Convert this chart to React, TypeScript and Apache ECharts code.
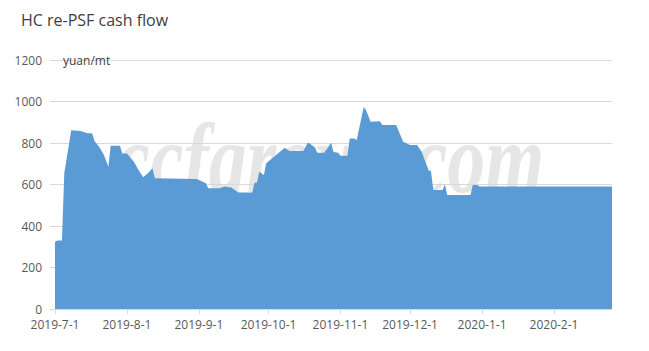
import React, { useEffect, useRef } from "react";
import * as echarts from "echarts";

const titleText = "HC re-PSF cash flow";
const unitText = "yuan/mt";
const watermarkText = "ccfgroup.com";

const dates = [
  "2019-07-01","2019-07-02","2019-07-04","2019-07-05","2019-07-08","2019-07-12","2019-07-15","2019-07-17",
  "2019-07-18","2019-07-20","2019-07-22","2019-07-24","2019-07-25","2019-07-29","2019-07-30","2019-08-01",
  "2019-08-04","2019-08-06","2019-08-08","2019-08-10","2019-08-12","2019-08-13","2019-08-31","2019-09-03",
  "2019-09-04","2019-09-05","2019-09-10","2019-09-12","2019-09-15","2019-09-18","2019-09-24","2019-09-25",
  "2019-09-26","2019-09-27","2019-09-29","2019-09-30","2019-10-08","2019-10-10","2019-10-16","2019-10-18",
  "2019-10-21","2019-10-22","2019-10-25","2019-10-28","2019-10-29","2019-10-31","2019-11-01","2019-11-04",
  "2019-11-05","2019-11-07","2019-11-08","2019-11-11","2019-11-12","2019-11-14","2019-11-18","2019-11-19",
  "2019-11-25","2019-11-28","2019-12-01","2019-12-04","2019-12-06","2019-12-09","2019-12-10","2019-12-11",
  "2019-12-15","2019-12-16","2019-12-17","2019-12-27","2019-12-28","2019-12-30","2019-12-31","2020-02-26",
];

const values = [
  324, 330, 330, 654, 862, 858, 847, 847,
  810, 782, 745, 686, 787, 787, 750, 750,
  710, 670, 635, 654, 678, 630, 627, 612,
  606, 582, 582, 590, 585, 562, 562, 608,
  608, 662, 646, 702, 777, 761, 761, 803,
  779, 753, 753, 801, 757, 753, 739, 739,
  822, 822, 814, 972, 959, 903, 905, 887,
  887, 806, 790, 790, 758, 668, 665, 573,
  573, 601, 549, 549, 598, 598, 590, 590,
];

const yMin = 0;
const yMax = 1200;
const yStep = 200;

function toTs(s: string): number {
  const [y, m, d] = s.split("-").map(Number);
  return new Date(y, m - 1, d).getTime();
}

export default function App() {
  const ref = useRef<HTMLDivElement>(null);

  useEffect(() => {
    if (!ref.current) return;
    const chart = echarts.init(ref.current, null, { renderer: "svg" });
    const data = dates.map((d, i) => [toTs(d), values[i]]);
    const DAY = 86400000;
    const font = "'Open Sans', 'Liberation Sans', sans-serif";
    chart.setOption({
      animation: false,
      backgroundColor: "#ffffff",
      title: {
        text: titleText,
        left: 16,
        top: 7,
        textStyle: { fontFamily: font, fontSize: 16, fontWeight: "normal", color: "#404040" },
      },
      grid: { left: 55, right: 37, top: 60, bottom: 42, containLabel: false },
      graphic: [
        {
          type: "text",
          z: -1,
          zlevel: 0,
          x: 116,
          y: 108,
          scaleX: 0.76,
          silent: true,
          style: {
            text: watermarkText,
            fontFamily: "'Liberation Serif', serif",
            fontStyle: "italic",
            fontWeight: "bold",
            fontSize: 100,
            fill: "#e6e6e6",
          },
        },
        {
          type: "text",
          x: 63,
          y: 60,
          z: 100,
          style: {
            text: unitText,
            fontFamily: font,
            fontSize: 12,
            fill: "#404040",
            verticalAlign: "middle",
          },
        },
      ],
      xAxis: {
        type: "time",
        min: toTs(dates[0]),
        max: toTs(dates[dates.length - 1]),
        minInterval: 28 * DAY,
        maxInterval: 31 * DAY,
        axisLine: { show: true, lineStyle: { color: "#d9d9d9", width: 1 } },
        axisTick: { show: true, length: 5, lineStyle: { color: "#d9d9d9" } },
        splitLine: { show: false },
        axisLabel: {
          margin: 9,
          color: "#595959",
          fontFamily: font,
          fontSize: 12,
          lineHeight: 13,
          hideOverlap: false,
          showMaxLabel: false,
          formatter: (v: number) => {
            const d = new Date(v);
            return `${d.getFullYear()}-${d.getMonth() + 1}-${d.getDate()}`;
          },
        },
      },
      yAxis: {
        type: "value",
        min: yMin,
        max: yMax,
        interval: yStep,
        axisLine: { show: false },
        axisTick: { show: true, length: 5, lineStyle: { color: "#d9d9d9" } },
        splitLine: { show: true, lineStyle: { color: "#d9d9d9", width: 1 } },
        axisLabel: {
          margin: 13,
          color: "#595959",
          fontFamily: font,
          fontSize: 12,
          lineHeight: 12,
          formatter: (v: number) => String(v),
        },
      },
      series: [
        {
          type: "line",
          data,
          showSymbol: false,
          symbol: "none",
          z: 3,
          lineStyle: { width: 0 },
          areaStyle: { color: "#5b9bd5", opacity: 1 },
        },
      ],
    });
    return () => chart.dispose();
  }, []);

  return <div ref={ref} style={{ width: 649, height: 351, position: "absolute", left: 0, top: 0 }} />;
}
